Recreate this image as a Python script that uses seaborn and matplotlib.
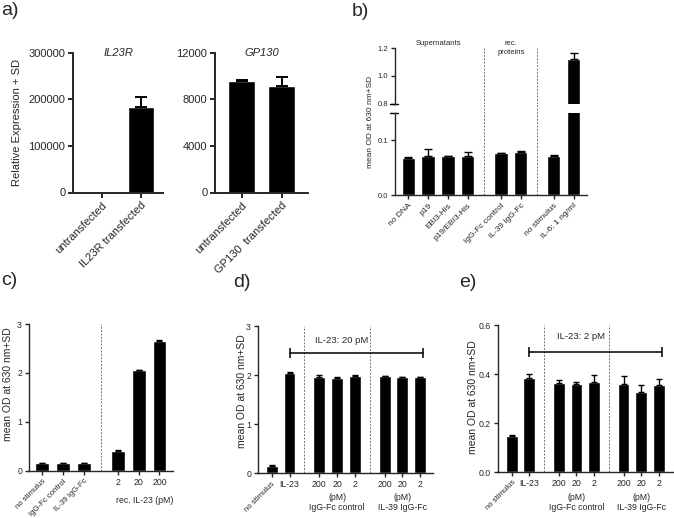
import numpy as np
import matplotlib
matplotlib.use("Agg")
import matplotlib.pyplot as plt
import matplotlib.transforms as mtransforms
import seaborn as sns

# ---- data ----
# a) relative expression
a_il23r_labels = ["untransfected", "IL23R transfected"]
a_il23r = [1, 184000]
a_il23r_sd = [0, 21500]
a_gp130_labels = ["untransfected", "GP130  transfected"]
a_gp130 = [9560, 9160]
a_gp130_sd = [140, 770]

# b) supernatants / rec. proteins / IL-6 control
b_labels = ["no DNA", "p19", "EBI3-His", "p19/EBI3-His",
            "IgG-Fc control", "IL-39 IgG-Fc", "no stimulus", "IL-6: 1 ng/ml"]
b_sizes = [4, 2, 2]
b_means = [0.068, 0.0715, 0.071, 0.0715, 0.0765, 0.079, 0.0715, 1.124]
b_sd = [0.0008, 0.012, 0.0008, 0.0065, 0.0005, 0.0006, 0.0006, 0.04]

# c) IL-23 titration
c_labels = ["no stimulus", "IgG-Fc control", "IL-39 IgG-Fc", "2", "20", "200"]
c_sizes = [3, 3]
c_means = [0.155, 0.16, 0.16, 0.40, 2.05, 2.65]
c_sd = [0.005, 0.005, 0.005, 0.015, 0.01, 0.03]

# d) / e) blocking with IL-23 20 pM / 2 pM
de_labels = ["no stimulus", "IL-23", "200", "20", "2", "200", "20", "2"]
de_groups = ["IgG-Fc control", "IL-39 IgG-Fc"]
de_sizes = [2, 3, 3]
d_means = [0.155, 2.05, 1.97, 1.95, 1.99, 1.975, 1.955, 1.96]
d_sd = [0.01, 0.01, 0.035, 0.01, 0.01, 0.012, 0.012, 0.01]
e_means = [0.149, 0.383, 0.364, 0.361, 0.367, 0.360, 0.327, 0.357]
e_sd = [0.004, 0.018, 0.0125, 0.007, 0.0285, 0.033, 0.029, 0.022]

# ---- style ----
sns.set_style("ticks")
plt.rcParams["font.family"] = ["Liberation Sans", "DejaVu Sans"]
plt.rcParams["axes.linewidth"] = 1.0
plt.rcParams["xtick.major.width"] = 1.0
plt.rcParams["ytick.major.width"] = 1.0
plt.rcParams["xtick.major.size"] = 3
plt.rcParams["ytick.major.size"] = 3
plt.rcParams["xtick.major.pad"] = 2
plt.rcParams["ytick.major.pad"] = 2

W, H = 674, 518
fig = plt.figure(figsize=(W / 100, H / 100), dpi=100)


def px_axes(x0, y0, x1, y1):
    return fig.add_axes([x0 / W, 1 - y1 / H, (x1 - x0) / W, (y1 - y0) / H])


def positions(sizes, gap):
    pos, x = [], 0.0
    for k, n in enumerate(sizes):
        if k:
            x += gap
        for i in range(n):
            pos.append(x)
            x += 1
    return pos


def draw_bars(ax, pos, means, sds, capsize, lw):
    sns.barplot(x=pos, y=means, native_scale=True, orient="x", color="black",
                saturation=1, width=0.67, errorbar=None, ax=ax)
    keep = [i for i, s in enumerate(sds) if s > 0]
    ax.errorbar([pos[i] for i in keep], [means[i] for i in keep],
                yerr=[np.zeros(len(keep)), [sds[i] for i in keep]],
                fmt="none", ecolor="black", elinewidth=lw, capsize=capsize,
                capthick=lw)


def group_lines(ax, pos, sizes, **kw):
    idx = np.cumsum(sizes)[:-1]
    for i in idx:
        ax.axvline((pos[i - 1] + pos[i]) / 2, color="0.45", ls=(0, (2, 1.5)),
                   lw=0.7, **kw)


def rotate_first(ax, n, fs, rfs=None):
    for k, t in enumerate(ax.get_xticklabels()):
        t.set_fontsize(fs)
        if k < n:
            t.set_rotation(45)
            t.set_ha("right")
            t.set_va("top")
            t.set_rotation_mode("anchor")
            if rfs:
                t.set_fontsize(rfs)


# ---- a) ----
for (x0, x1, xlim, labels, vals, sds, ymax, step, title) in [
        (73, 163, (-0.74, 1.57), a_il23r_labels, a_il23r, a_il23r_sd,
         300000, 100000, "IL23R"),
        (215, 308, (-0.67, 1.66), a_gp130_labels, a_gp130, a_gp130_sd,
         12000, 4000, "GP130")]:
    ax = px_axes(x0, 53, x1, 192.5)
    pos = [0, 1]
    draw_bars(ax, pos, vals, sds, 4.3, 1.4)
    ax.set_ylim(0, ymax)
    ax.set_yticks(np.arange(0, ymax + 1, step))
    ax.set_xticks(pos)
    ax.set_xticklabels(labels)
    rotate_first(ax, 2, 8)
    ax.tick_params(axis="y", labelsize=8)
    ax.set_xlim(*xlim)
    for s in ax.spines.values():
        s.set_linewidth(1.4)
    ax.tick_params(width=1.4, length=3.5)
    sns.despine(ax=ax)
    ax.text(0.5, 1.0, title, transform=ax.transAxes, ha="center", va="center",
            fontsize=8, style="italic")
fig.text(17 / W, 1 - 122.5 / H, "Relative Expression + SD", rotation=90,
         ha="center", va="center", fontsize=8)

# ---- b) broken axis ----
b_pos = positions(b_sizes, 0.67)
ax_bu = px_axes(395, 48.3, 586.7, 103.7)
ax_bl = px_axes(395, 112.7, 586.7, 195)
for ax in (ax_bu, ax_bl):
    draw_bars(ax, b_pos, b_means, b_sd, 2.8, 1.0)
    ax.set_xlim(-0.67, 9.0)
    sns.despine(ax=ax)
ax_bu.set_ylim(0.8, 1.2)
ax_bu.set_yticks([0.8, 1.0, 1.2])
ax_bu.set_yticklabels(["0.8", "1.0", "1.2"])
ax_bu.spines["bottom"].set_visible(False)
ax_bu.set_xticks([])
ax_bl.set_ylim(0, 0.15)
ax_bl.set_yticks([0.0, 0.1])
ax_bl.set_yticklabels(["0.0", "0.1"])
ax_bl.set_xticks(b_pos)
ax_bl.set_xticklabels(b_labels)
rotate_first(ax_bl, 8, 6)
for ax in (ax_bu, ax_bl):
    ax.tick_params(axis="y", labelsize=5.5)
gap_frac = (112.7 - 103.7) / (195 - 112.7)
group_lines(ax_bl, b_pos, b_sizes, ymin=0, ymax=1 + gap_frac, clip_on=False)
group_lines(ax_bu, b_pos, b_sizes)
ax_bu.plot([-0.025, 0.015], [0, 0], transform=ax_bu.transAxes, color="k",
           lw=1.0, clip_on=False)
ax_bl.plot([-0.025, 0.015], [1, 1], transform=ax_bl.transAxes, color="k",
           lw=1.0, clip_on=False)
tb = mtransforms.blended_transform_factory(ax_bu.transData, ax_bu.transAxes)
ax_bu.text(np.mean(b_pos[0:4]), 1.09, "Supernatants", transform=tb,
           ha="center", va="center", fontsize=5.5)
ax_bu.text(np.mean(b_pos[4:6]), 1.0, "rec.\nproteins", transform=tb,
           ha="center", va="center", fontsize=5.5, linespacing=1.4)
fig.text(370 / W, 1 - 121.7 / H, "mean OD at 630 nm+SD", rotation=90,
         ha="center", va="center", fontsize=6)

# ---- c) ----
c_pos = positions(c_sizes, 0.63)
ax_c = px_axes(29, 324, 173, 470.7)
draw_bars(ax_c, c_pos, c_means, c_sd, 2.2, 1.0)
ax_c.set_ylim(0, 3)
ax_c.set_yticks([0, 1, 2, 3])
ax_c.set_xlim(-0.64, 6.28)
ax_c.set_xticks(c_pos)
ax_c.set_xticklabels(c_labels)
rotate_first(ax_c, 3, 6.3, 5.6)
ax_c.tick_params(axis="y", labelsize=6.3)
group_lines(ax_c, c_pos, c_sizes)
sns.despine(ax=ax_c)
tc = mtransforms.blended_transform_factory(ax_c.transData, ax_c.transAxes)
ax_c.text(4.9, -0.2, "rec. IL-23 (pM)", transform=tc, ha="center",
          va="center", fontsize=6.3)
fig.text(8.3 / W, 1 - 384 / H, "mean OD at 630 nm+SD", rotation=90,
         ha="center", va="center", fontsize=7.5)

# ---- d) and e) ----
de_pos = positions(de_sizes, 0.67)
for (x0, y0, x1, y1, xlim, means, sds, ymax, yticks, ytl, brk, txt, ty,
     lx, ly) in [
        (258, 326, 432.7, 473.3, (-0.77, 9.04), d_means, d_sd, 3,
         [0, 1, 2, 3], ["0", "1", "2", "3"], 2.46, "IL-23: 20 pM", 2.71,
         241.7, 391),
        (498, 325.3, 674, 472, (-0.78, 9.2), e_means, e_sd, 0.6,
         [0, 0.2, 0.4, 0.6], ["0.0", "0.2", "0.4", "0.6"], 0.492,
         "IL-23: 2 pM", 0.553, 473.3, 396.7)]:
    ax = px_axes(x0, y0, x1, y1)
    draw_bars(ax, de_pos, means, sds, 2.2, 1.0)
    ax.set_ylim(0, ymax)
    ax.set_yticks(yticks)
    ax.set_yticklabels(ytl)
    ax.set_xlim(*xlim)
    ax.set_xticks(de_pos)
    ax.set_xticklabels(de_labels)
    rotate_first(ax, 1, 6.3, 5.6)
    ax.tick_params(axis="y", labelsize=6.3)
    group_lines(ax, de_pos, de_sizes)
    sns.despine(ax=ax)
    ax.plot([de_pos[1], 8.52], [brk, brk], color="black", lw=1.1,
            marker="|", markersize=7, markeredgewidth=1.1)
    ax.text(3.9, ty, txt, ha="center", va="center", fontsize=6.8)
    td = mtransforms.blended_transform_factory(ax.transData, ax.transAxes)
    h = y1 - y0
    for g, name in enumerate(de_groups):
        xc = de_pos[3 + 3 * g]
        ax.text(xc, -(497 - y1) / h, "(pM)", transform=td, ha="center",
                va="center", fontsize=6.3)
        ax.text(xc, -(508 - y1) / h, name, transform=td, ha="center",
                va="center", fontsize=6.3)
    fig.text(lx / W, 1 - ly / H, "mean OD at 630 nm+SD", rotation=90,
             ha="center", va="center", fontsize=7.5)

# ---- panel letters ----
for (x, y, s) in [(1, 2, "a)"), (352, 3, "b)"), (1, 272, "c)"),
                  (233, 274, "d)"), (459, 274, "e)")]:
    fig.text(x / W, 1 - y / H, s, ha="left", va="top", fontsize=14)

fig.savefig("out.png", dpi=100)
